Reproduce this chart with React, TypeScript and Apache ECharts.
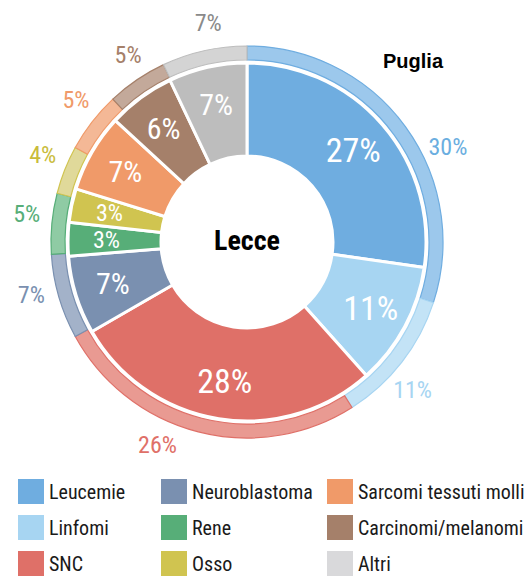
import React, { useEffect, useRef } from "react";
import * as echarts from "echarts";

const categories = [
  "Leucemie",
  "Linfomi",
  "SNC",
  "Neuroblastoma",
  "Rene",
  "Osso",
  "Sarcomi tessuti molli",
  "Carcinomi/melanomi",
  "Altri",
];
const lecceValues = [27, 11, 28, 7, 3, 3, 7, 6, 7];
const pugliaValues = [30, 11, 26, 7, 5, 4, 5, 5, 7];
const baseColors = ["#6fade0", "#a7d5f2", "#df7068", "#7a90b0", "#57ae78", "#d0c450", "#f09a69", "#a5806a", "#bdbdbd"];
const legendColors = ["#6fade0", "#a7d5f2", "#df7068", "#7a90b0", "#57ae78", "#d0c450", "#f09a69", "#a5806a", "#d9d9db"];
const lightColors = ["#9cc8ec", "#c3e3f6", "#e99a92", "#a3b2c9", "#8fcba4", "#e0d99a", "#f4b896", "#c3a99a", "#d4d4d4"];
const outerLabelColors = ["#6aaee0", "#a7d5f2", "#df7068", "#7a90b0", "#57ae78", "#c9bc3b", "#f09a69", "#a5806a", "#8a8a8a"];
const innerLabelSizes = [34, 34, 34, 30, 24, 24, 30, 30, 30];

const FONT = "'Roboto Condensed', 'Liberation Sans Narrow', 'Noto Sans', sans-serif";

export default function App() {
  const ref = useRef<HTMLDivElement>(null);
  useEffect(() => {
    if (!ref.current) return;
    const chart = echarts.init(ref.current, undefined, { renderer: "svg" });
    const center = [247, 242];
    const legendLefts = [18, 161, 327];
    const legendCols = [0, 1, 2].map((c) =>
      categories.slice(c * 3, c * 3 + 3).map((name, k) => ({
        name,
        itemStyle: { color: legendColors[c * 3 + k], borderWidth: 0 },
      }))
    );

    // label angle for the outer ring: a little past the middle of each slice
    const total = pugliaValues.reduce((a, b) => a + b, 0);
    const starts: number[] = [];
    let acc = 0;
    pugliaValues.forEach((v) => {
      starts.push(acc);
      acc += v;
    });
    const labelR = 222;
    const outerLabelLayout = (params: any) => {
      const i = params.dataIndex;
      const frac = (starts[i] + pugliaValues[i] * 0.6) / total;
      const a = frac * Math.PI * 2;
      return {
        x: center[0] + labelR * Math.sin(a),
        y: center[1] - labelR * Math.cos(a),
        align: "center",
        verticalAlign: "middle",
      };
    };

    chart.setOption({
      animation: false,
      backgroundColor: "#ffffff",
      legend: legendCols.map((cols, i) => ({
        data: cols,
        orient: "vertical",
        left: legendLefts[i],
        top: 479,
        padding: 0,
        itemWidth: 26,
        itemHeight: 25,
        itemGap: 11,
        icon: "rect",
        selectedMode: false,
        itemStyle: { borderWidth: 0 },
        textStyle: { fontSize: 20, fontFamily: FONT, color: "#1a1a1a" },
      })),
      graphic: [
        {
          type: "text",
          x: center[0],
          y: center[1] - 2,
          style: {
            text: "Lecce",
            align: "center",
            verticalAlign: "middle",
            font: "bold 28px " + FONT,
            fill: "#000000",
          },
        },
        {
          type: "text",
          x: 413,
          y: 61,
          style: {
            text: "Puglia",
            align: "center",
            verticalAlign: "middle",
            font: "bold 20px 'Liberation Sans', sans-serif",
            fill: "#000000",
          },
        },
      ],
      series: [
        {
          type: "pie",
          name: "Lecce",
          center,
          radius: [86, 179],
          startAngle: 90,
          clockwise: true,
          silent: true,
          avoidLabelOverlap: false,
          label: { show: false },
          labelLine: { show: false },
          itemStyle: { borderColor: "#ffffff", borderWidth: 3 },
          data: categories.map((name, i) => ({
            name,
            value: lecceValues[i],
            itemStyle: { color: baseColors[i] },
          })),
        },
        {
          type: "pie",
          name: "Puglia",
          center,
          radius: [182, 196],
          startAngle: 90,
          clockwise: true,
          silent: true,
          avoidLabelOverlap: false,
          labelLine: { show: false, length: 8, length2: 0 },
          label: {
            show: true,
            position: "outside",
            formatter: "{c}%",
            fontSize: 24,
            fontFamily: FONT,
          },
          labelLayout: outerLabelLayout,
          itemStyle: { borderWidth: 1.2 },
          data: categories.map((name, i) => ({
            name,
            value: pugliaValues[i],
            itemStyle: { color: lightColors[i], borderColor: baseColors[i] },
            label: { color: outerLabelColors[i] },
          })),
        },
        {
          type: "pie",
          name: "LecceLabels",
          center,
          radius: [96, 179],
          startAngle: 90,
          clockwise: true,
          silent: true,
          avoidLabelOverlap: false,
          labelLine: { show: false },
          itemStyle: { color: "rgba(0,0,0,0)", borderWidth: 0 },
          label: {
            show: true,
            position: "inside",
            formatter: "{c}%",
            color: "#ffffff",
            fontFamily: FONT,
          },
          data: categories.map((name, i) => ({
            name,
            value: lecceValues[i],
            itemStyle: { color: "rgba(0,0,0,0)" },
            label: { fontSize: innerLabelSizes[i] },
          })),
        },
      ],
    });
    return () => chart.dispose();
  }, []);
  return (
    <div
      ref={ref}
      style={{ position: "absolute", left: 0, top: 0, width: 528, height: 576 }}
    />
  );
}
